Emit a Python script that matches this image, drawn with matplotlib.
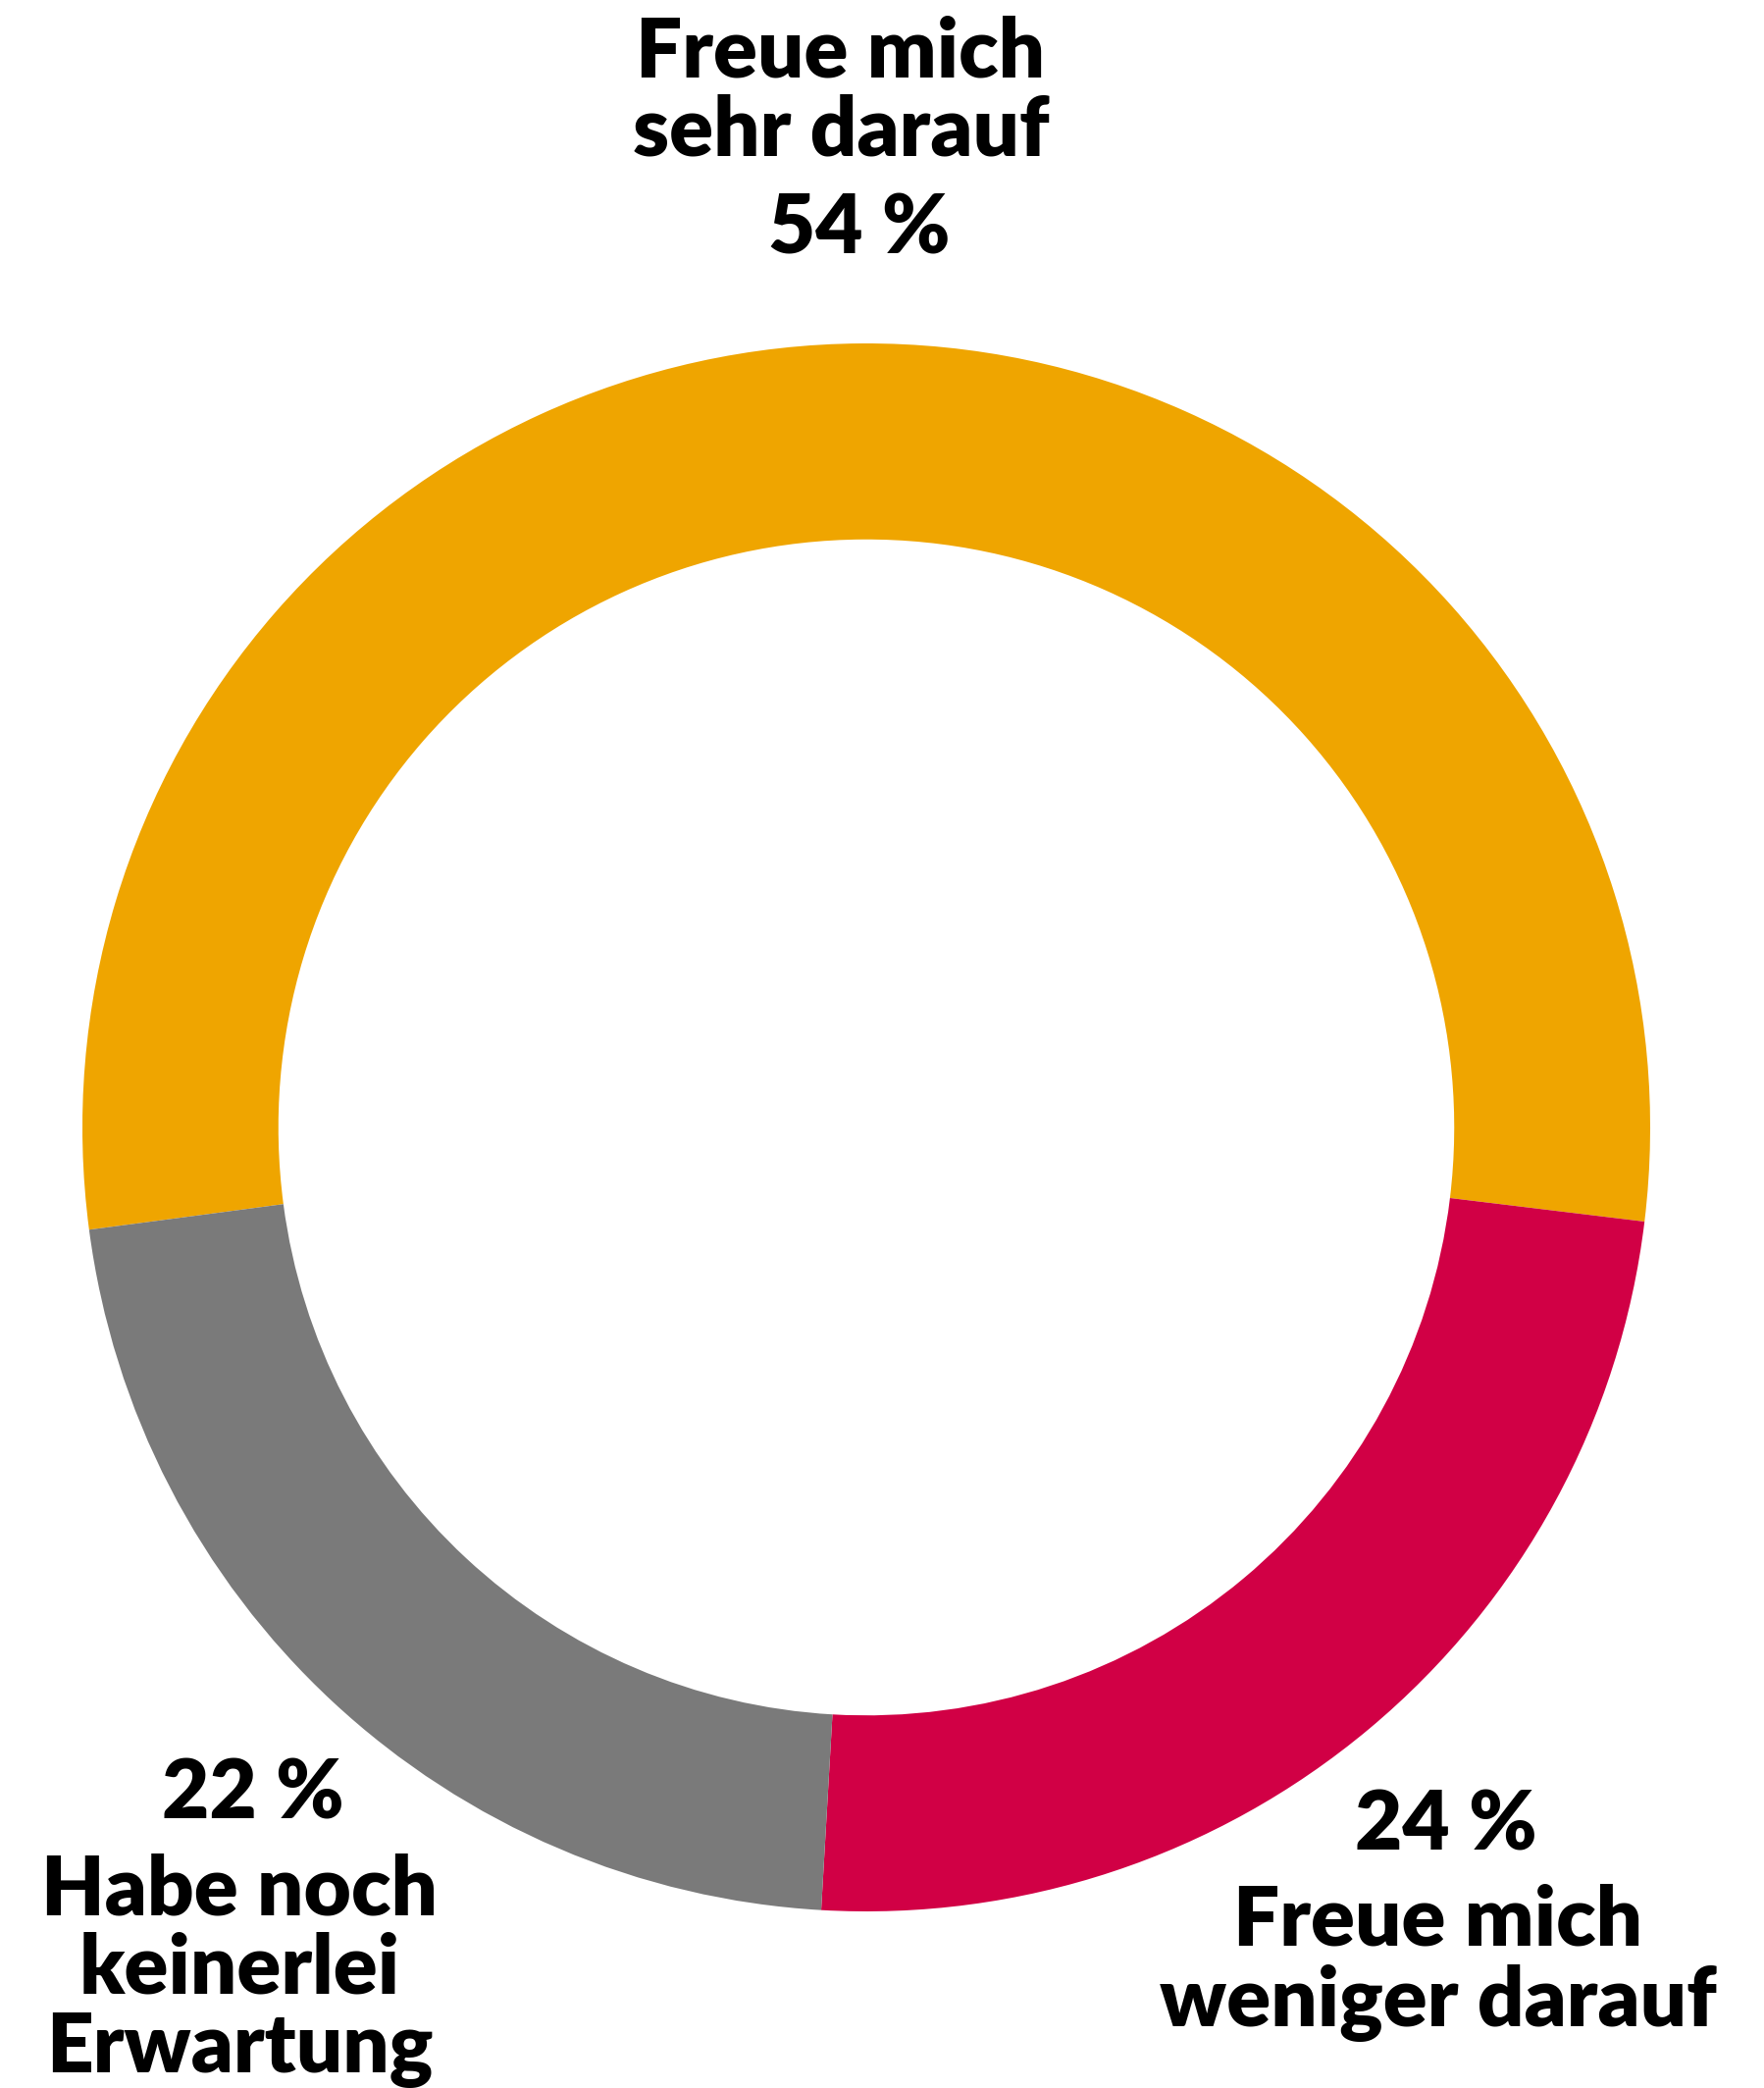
import matplotlib.pyplot as plt

# data
shares = [54, 24, 22]
colors = ['#EFA500', '#D10045', '#7A7A7A']
pct_labels = ['54 %', '24 %', '22 %']
name_lines = [['Freue mich', 'sehr darauf'],
              ['Freue mich', 'weniger darauf'],
              ['Habe noch', 'keinerlei', 'Erwartung']]

W, H = 1799, 2128
fig = plt.figure(figsize=(W / 100, H / 100), dpi=100)
ax = fig.add_axes([0, 0, 1, 1])

cx, cy = 883, H - 1149
R = 799
ax.pie(shares, colors=colors, startangle=187.5, counterclock=False,
       radius=R, center=(cx, cy), frame=True,
       wedgeprops=dict(width=R * 0.25, linewidth=0))
ax.set_xlim(0, W)
ax.set_ylim(0, H)
ax.set_aspect('equal')
ax.axis('off')

font = dict(family='Lato', weight='heavy', fontsize=60, color='black')

# top label: names above percent
ax.text(876, H - 258, pct_labels[0], ha='center', va='baseline', **font)
for i, line in enumerate(name_lines[0]):
    ax.text(857, H - (78 + 80 * i), line, ha='center', va='baseline', **font)

# right label
ax.text(1474, H - 1885, pct_labels[1], ha='center', va='baseline', **font)
for i, line in enumerate(name_lines[1]):
    ax.text(1466, H - (1983 + 82 * i), line, ha='center', va='baseline', **font)

# left label
ax.text(258, H - 1853, pct_labels[2], ha='center', va='baseline', **font)
for i, line in enumerate(name_lines[2]):
    ax.text(244, H - (1952 + 80 * i), line, ha='center', va='baseline', **font)

fig.savefig('out.png', dpi=100, facecolor='white')
